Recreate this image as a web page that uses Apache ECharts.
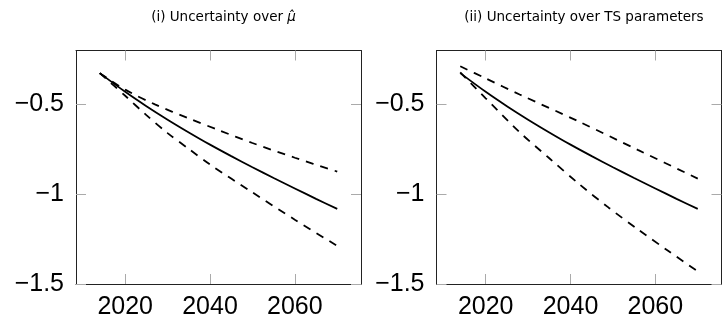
<!DOCTYPE html>
<html>
<head>
<meta charset="utf-8">
<script src="https://cdn.jsdelivr.net/npm/echarts@6/dist/echarts.min.js"></script>
<style>
  html, body { margin: 0; padding: 0; background: #fff; }
  #chart { width: 722px; height: 320px; }
</style>
</head>
<body>
<div id="chart"></div>
<script>
// Projection years and values for each curve
const centralYears = [2014, 2020, 2025, 2030, 2035, 2040, 2045, 2050, 2055, 2060, 2065, 2070];
const centralValues = [-0.326, -0.43, -0.51, -0.585, -0.656, -0.724, -0.788, -0.85, -0.91, -0.968, -1.026, -1.082];

// Panel (i): band from uncertainty over mu-hat
const muUpperYears = [2014, 2020, 2027, 2035, 2042, 2050, 2060, 2070];
const muUpperValues = [-0.326, -0.418, -0.50, -0.578, -0.643, -0.715, -0.797, -0.874];
const muLowerYears = [2014, 2020, 2025, 2030, 2035, 2040, 2050, 2060, 2070];
const muLowerValues = [-0.326, -0.452, -0.56, -0.66, -0.748, -0.835, -0.99, -1.142, -1.288];

// Panel (ii): band from uncertainty over TS parameters
const tsUpperYears = [2014, 2020, 2028, 2042, 2056, 2070];
const tsUpperValues = [-0.288, -0.355, -0.445, -0.596, -0.755, -0.913];
const tsLowerYears = [2014, 2020, 2028, 2035, 2042, 2049, 2056, 2063, 2070];
const tsLowerValues = [-0.322, -0.466, -0.655, -0.80, -0.943, -1.075, -1.198, -1.315, -1.43];

// Axis ticks
const xTicks = [2020, 2040, 2060];
const yTicks = [-1.5, -1, -0.5];
const xRange = [2008.4, 2075.6];
const yRange = [-1.5, -0.2];

const panelTitles = ['(i) Uncertainty over {m|μ̂}', '(ii) Uncertainty over TS parameters'];

const pairs = (xs, ys) => xs.map((x, i) => [x, ys[i]]);

const FONT = 'Liberation Sans';
const frameColor = '#222';
const tickColor = '#aaa';

const grids = [
  { left: 76, top: 50.5, width: 285, height: 235.5 },
  { left: 436.5, top: 50.5, width: 285, height: 235.5 }
];

const xAxes = [];
const yAxes = [];
grids.forEach((g, gi) => {
  ['bottom', 'top'].forEach((pos) => {
    xAxes.push({
      type: 'value', gridIndex: gi, position: pos,
      min: xRange[0], max: xRange[1],
      splitLine: { show: false },
      axisLine: { show: true, onZero: false, lineStyle: { color: frameColor, width: 1 } },
      axisTick: { show: true, inside: true, length: 10, customValues: xTicks,
                  lineStyle: { color: tickColor, width: 1 } },
      axisLabel: {
        show: pos === 'bottom', customValues: xTicks, margin: 11,
        fontFamily: FONT, fontSize: 25, color: '#000',
        formatter: (v) => String(v)
      }
    });
  });
  ['left', 'right'].forEach((pos) => {
    yAxes.push({
      type: 'value', gridIndex: gi, position: pos,
      min: yRange[0], max: yRange[1],
      splitLine: { show: false },
      axisLine: { show: true, onZero: false, lineStyle: { color: frameColor, width: 1 } },
      axisTick: { show: true, inside: true, length: 10, customValues: yTicks,
                  lineStyle: { color: tickColor, width: 1 } },
      axisLabel: {
        show: pos === 'left', customValues: yTicks, margin: 12,
        fontFamily: FONT, fontSize: 25, color: '#000',
        formatter: (v) => String(v).replace('-', '\u2212')
      }
    });
  });
});

const solidStyle = { color: '#000', width: 1.8, type: 'solid' };
const dashStyle = { color: '#000', width: 1.8, type: [8, 7] };

function curve(panel, data, style) {
  return {
    type: 'line', xAxisIndex: panel * 2, yAxisIndex: panel * 2,
    data, showSymbol: false, symbol: 'none', smooth: 0.3,
    lineStyle: style, silent: true, animation: false, z: 3
  };
}

const series = [
  curve(0, pairs(centralYears, centralValues), solidStyle),
  curve(0, pairs(muUpperYears, muUpperValues), dashStyle),
  curve(0, pairs(muLowerYears, muLowerValues), dashStyle),
  curve(1, pairs(centralYears, centralValues), solidStyle),
  curve(1, pairs(tsUpperYears, tsUpperValues), dashStyle),
  curve(1, pairs(tsLowerYears, tsLowerValues), dashStyle)
];

const titles = panelTitles.map((t, i) => ({
  text: t,
  left: grids[i].left + grids[i].width / 2,
  top: 5,
  textAlign: 'center',
  textStyle: {
    fontFamily: 'DejaVu Sans', fontSize: 13.5, fontWeight: 'normal', color: '#000',
    rich: { m: { fontFamily: 'DejaVu Sans', fontStyle: 'italic', fontSize: 13.5, color: '#000' } }
  }
}));

const chart = echarts.init(document.getElementById('chart'), null, { renderer: 'canvas' });
chart.setOption({
  animation: false,
  backgroundColor: '#fff',
  title: titles,
  grid: grids,
  xAxis: xAxes,
  yAxis: yAxes,
  series
});
</script>
</body>
</html>
